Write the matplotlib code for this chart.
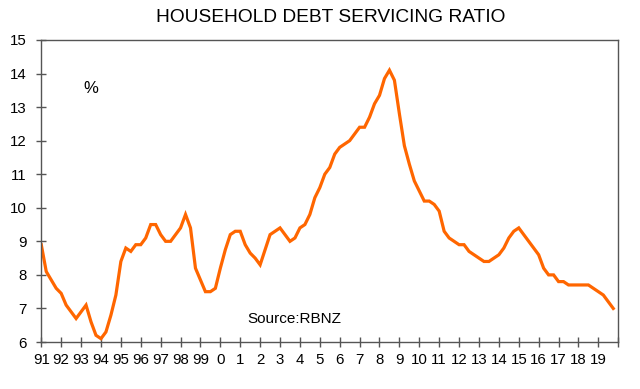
import matplotlib
matplotlib.use("Agg")
import matplotlib.pyplot as plt
import numpy as np

plt.rcParams['font.family'] = ['Liberation Sans', 'DejaVu Sans']

start_year = 1991
ratio = [
    8.9, 8.1, 7.85, 7.6,     # 1991
    7.45, 7.1, 6.9, 6.7,     # 1992
    6.9, 7.1, 6.6, 6.2,      # 1993
    6.1, 6.3, 6.8, 7.4,      # 1994
    8.4, 8.8, 8.7, 8.9,      # 1995
    8.9, 9.1, 9.5, 9.5,      # 1996
    9.2, 9.0, 9.0, 9.2,      # 1997
    9.4, 9.8, 9.4, 8.2,      # 1998
    7.85, 7.5, 7.5, 7.6,     # 1999
    8.2, 8.75, 9.2, 9.3,     # 2000
    9.3, 8.9, 8.65, 8.5,     # 2001
    8.3, 8.75, 9.2, 9.3,     # 2002
    9.4, 9.2, 9.0, 9.1,      # 2003
    9.4, 9.5, 9.8, 10.3,     # 2004
    10.6, 11.0, 11.2, 11.6,  # 2005
    11.8, 11.9, 12.0, 12.2,  # 2006
    12.4, 12.4, 12.7, 13.1,  # 2007
    13.35, 13.85, 14.1, 13.8,  # 2008
    12.8, 11.85, 11.3, 10.8,   # 2009
    10.5, 10.2, 10.2, 10.1,    # 2010
    9.9, 9.3, 9.1, 9.0,        # 2011
    8.9, 8.9, 8.7, 8.6,        # 2012
    8.5, 8.4, 8.4, 8.5,        # 2013
    8.6, 8.8, 9.1, 9.3,        # 2014
    9.4, 9.2, 9.0, 8.8,        # 2015
    8.6, 8.2, 8.0, 8.0,        # 2016
    7.8, 7.8, 7.7, 7.7,        # 2017
    7.7, 7.7, 7.7, 7.6,        # 2018
    7.5, 7.4, 7.2, 7.0,        # 2019
]
tick_years = list(range(1991, 2020))
tick_labels = ['91', '92', '93', '94', '95', '96', '97', '98', '99', '0', '1', '2', '3', '4',
               '5', '6', '7', '8', '9', '10', '11', '12', '13', '14', '15', '16', '17', '18', '19']

x = start_year + np.arange(len(ratio)) / 4.0

fig = plt.figure(figsize=(6.4, 3.89), dpi=100)
ax = fig.add_axes([0.0645, 0.1208, 0.9015, 0.7764])
ax.plot(x, ratio, color='#FF6600', lw=2.3, solid_joinstyle='miter')

ax.set_xlim(1991, 2020)
ax.set_ylim(6, 15)
ax.set_yticks(range(6, 16))
ax.set_xticks(tick_years + [2020])
ax.set_xticklabels(tick_labels + [''])
for s in ax.spines.values():
    s.set_color('#555555')
    s.set_linewidth(1.0)
ax.tick_params(axis='both', direction='inout', length=7, width=1.0, color='#555555',
               labelsize=10.8, labelcolor='#000000')
ax.tick_params(axis='x', pad=4.5)
ax.tick_params(axis='y', pad=7)

fig.text(0.517, 0.956, 'HOUSEHOLD DEBT SERVICING RATIO', ha='center', va='center',
         fontsize=13.8, color='#000000')
ax.text(0.086, 0.84, '%', transform=ax.transAxes, fontsize=12, ha='center', va='center')
ax.text(0.438, 0.076, 'Source:RBNZ', transform=ax.transAxes, fontsize=11, ha='center', va='center')

fig.savefig('out.png', dpi=100)
